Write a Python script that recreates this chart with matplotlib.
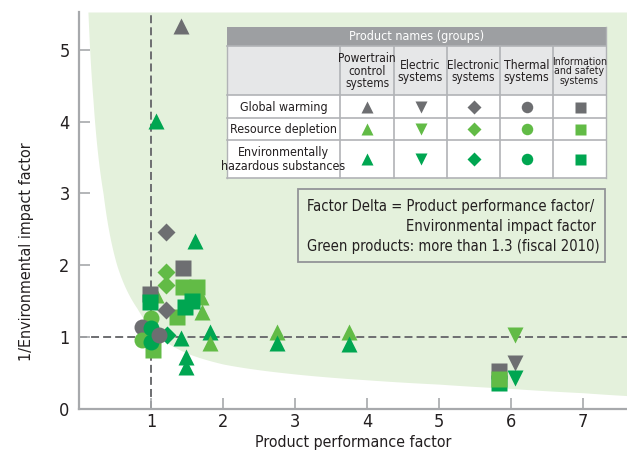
import matplotlib

matplotlib.use("Agg")
import matplotlib.pyplot as plt
from matplotlib.patches import Rectangle
import numpy as np

# --- data ------------------------------------------------------------------
# one entry per plotted product; list order = drawing order (later on top)
pt_x = [2.74, 2.74, 3.74, 3.74,
        6.05, 6.05, 6.05, 5.83, 5.83, 5.83,
        1.41, 1.07, 1.20, 1.61, 1.07, 1.69, 1.70,
        1.44, 1.20, 1.20, 1.44, 1.64, 0.98, 0.98, 1.35, 1.56, 1.47,
        1.21, 1.02, 1.41, 1.82, 1.82, 1.48, 1.48,
        1.00, 0.87, 0.87, 1.00, 1.00, 1.22, 1.11]
pt_y = [1.07, 0.92, 1.06, 0.90,
        1.02, 0.63, 0.43, 0.52, 0.36, 0.41,
        5.34, 4.01, 2.46, 2.34, 1.58, 1.56, 1.34,
        1.96, 1.91, 1.72, 1.70, 1.70, 1.59, 1.49, 1.28, 1.50, 1.41,
        1.37, 0.82, 0.98, 1.06, 0.91, 0.72, 0.58,
        1.26, 1.14, 0.96, 1.12, 0.93, 1.02, 1.02]
pt_group = ["PT", "PT", "PT", "PT",
            "EL", "EL", "EL", "IS", "IS", "IS",
            "PT", "PT", "EO", "PT", "PT", "PT", "PT",
            "IS", "EO", "EO", "IS", "IS", "IS", "IS", "IS", "IS", "IS",
            "EO", "IS", "PT", "PT", "PT", "PT", "PT",
            "TH", "TH", "TH", "TH", "TH", "EO", "TH"]
pt_impact = ["RD", "EH", "RD", "EH",
             "RD", "GW", "EH", "GW", "EH", "RD",
             "GW", "EH", "GW", "EH", "RD", "RD", "RD",
             "GW", "RD", "RD", "RD", "RD", "GW", "EH", "RD", "EH", "EH",
             "GW", "RD", "EH", "EH", "RD", "EH", "EH",
             "RD", "GW", "RD", "EH", "EH", "EH", "GW"]

# lower-left edge of the green "green products" region
edge_x = [0.12, 0.19, 0.33, 0.52, 0.80, 1.17, 1.50, 2.0, 2.83, 4.0, 5.0, 6.0, 7.0, 7.61]
edge_y = [5.53, 4.30, 3.00, 2.00, 1.40, 0.95, 0.77, 0.62, 0.50, 0.40, 0.34, 0.28, 0.22, 0.18]

groups = ["PT", "EL", "EO", "TH", "IS"]
group_names = ["Powertrain\ncontrol\nsystems", "Electric\nsystems", "Electronic\nsystems",
               "Thermal\nsystems", "Information\nand safety\nsystems"]
impacts = ["GW", "RD", "EH"]
impact_names = ["Global warming", "Resource depletion", "Environmentally\nhazardous substances"]

MARKER = {"PT": "^", "EL": "v", "EO": "D", "TH": "o", "IS": "s"}
MSIZE = {"PT": 12, "EL": 12, "EO": 9.5, "TH": 11.5, "IS": 11}
COLOR = {"GW": "#6d6e71", "RD": "#62bb46", "EH": "#00a651"}
GREEN_BG = "#e4f1dc"
GRAY = "#6d6e71"
TXT = "#231f20"

plt.rcParams["font.family"] = "DejaVu Sans"
plt.rcParams["font.stretch"] = "condensed"

W, H = 627, 454
fig = plt.figure(figsize=(W / 100, H / 100), dpi=100)
x0, x1, y0, y1 = 79.3, 627, 408.5, 12
ax = fig.add_axes([x0 / W, 1 - y0 / H, (x1 - x0) / W, (y0 - y1) / H])
xmax, ymax = (x1 - x0) / 72.0, (y0 - y1) / 71.7
ax.set_xlim(0, xmax)
ax.set_ylim(0, ymax)

# green region: interpolate edge in log-log space so it stays smooth
gx = np.exp(np.linspace(np.log(edge_x[0]), np.log(edge_x[-1]), 300))
gy = np.exp(np.interp(np.log(gx), np.log(edge_x), np.log(edge_y)))
ax.fill_between(gx, gy, ymax, color=GREEN_BG, lw=0, zorder=0)

ax.axvline(1, color=GRAY, lw=1.4, dashes=(4.1, 2.1), zorder=1)
ax.axhline(1, color=GRAY, lw=1.4, dashes=(4.1, 2.1), zorder=1)

for i, (x, y) in enumerate(zip(pt_x, pt_y)):
    g, k = pt_group[i], pt_impact[i]
    ax.plot(x, y, marker=MARKER[g], ms=MSIZE[g], color=COLOR[k], mec="none", ls="none", zorder=3 + i * 0.01)

for s in ["top", "right"]:
    ax.spines[s].set_visible(False)
for s in ["left", "bottom"]:
    ax.spines[s].set_color("#a7a9ac")
    ax.spines[s].set_linewidth(1.6)
ax.set_xticks(range(1, 8))
ax.set_yticks(range(0, 6))
ax.tick_params(direction="in", length=8, width=1.2, color="#a7a9ac", labelsize=13, labelcolor=TXT)
ax.tick_params(axis="x", pad=3)
ax.tick_params(axis="y", pad=7)
ax.set_xlabel("Product performance factor", fontsize=11.4, color=TXT, labelpad=3)
ax.set_ylabel("1/Environmental impact factor", fontsize=11.5, color=TXT)
ax.yaxis.set_label_coords(-0.082, 0.395)

# --- overlay in pixel coordinates for the key table and note box ------------
ov = fig.add_axes([0, 0, 1, 1], facecolor="none")
ov.set_xlim(0, W)
ov.set_ylim(H, 0)
ov.axis("off")

tl, tr = 227, 606
col_x = [227, 340, 394, 447, 500, 553, 606]
row_y = [26.7, 45.7, 95, 118.3, 140, 178.3]
line_c = "#b1b3b6"
ov.add_patch(Rectangle((tl, row_y[0]), tr - tl, row_y[1] - row_y[0], color="#9d9fa2", lw=0))
ov.add_patch(Rectangle((tl, row_y[1]), tr - tl, row_y[2] - row_y[1], color="#e6e7e8", lw=0))
ov.add_patch(Rectangle((tl, row_y[2]), tr - tl, row_y[5] - row_y[2], color="white", lw=0))
ov.text((tl + tr) / 2, (row_y[0] + row_y[1]) / 2 + 0.5, "Product names (groups)", color="white",
        fontsize=9.0, ha="center", va="center")
for yy in row_y[1:]:
    ov.plot([tl, tr], [yy, yy], color=line_c, lw=1.2)
for xx in col_x[1:-1]:
    ov.plot([xx, xx], [row_y[1], row_y[5]], color=line_c, lw=1.2)
ov.plot([tl, tl], [row_y[1], row_y[5]], color=line_c, lw=1.0)
ov.plot([tr, tr], [row_y[0], row_y[5]], color=line_c, lw=1.0)

col_fs = [8.6, 8.7, 8.4, 8.8, 7.6]
for j, name in enumerate(group_names):
    cx = (col_x[j + 1] + col_x[j + 2]) / 2
    ov.text(cx, (row_y[1] + row_y[2]) / 2 + 1, name, fontsize=col_fs[j],
            ha="center", va="center", color=TXT, linespacing=0.95)
for r, name in enumerate(impact_names):
    cy = (row_y[r + 2] + row_y[r + 3]) / 2
    ov.text((col_x[0] + col_x[1]) / 2, cy + 0.5, name, fontsize=8.9,
            ha="center", va="center", color=TXT, linespacing=1.05)
    for j, g in enumerate(groups):
        cx = (col_x[j + 1] + col_x[j + 2]) / 2
        ms = MSIZE[g] * 0.72
        ov.plot(cx, cy, marker=MARKER[g], ms=ms, color=COLOR[impacts[r]], mec="none", ls="none")

# note box
nfs = 10.6
ov.add_patch(Rectangle((297.5, 189), 307.5, 73.3, fill=False, ec="#939598", lw=1.3))
ov.text(307, 206.5, "Factor Delta = Product performance factor/", fontsize=nfs, ha="left", va="center", color=TXT)
ov.text(596, 226.5, "Environmental impact factor", fontsize=nfs, ha="right", va="center", color=TXT)
ov.text(307, 246.5, "Green products: more than 1.3 (fiscal 2010)", fontsize=nfs, ha="left", va="center", color=TXT)

fig.savefig("out.png", dpi=100)
